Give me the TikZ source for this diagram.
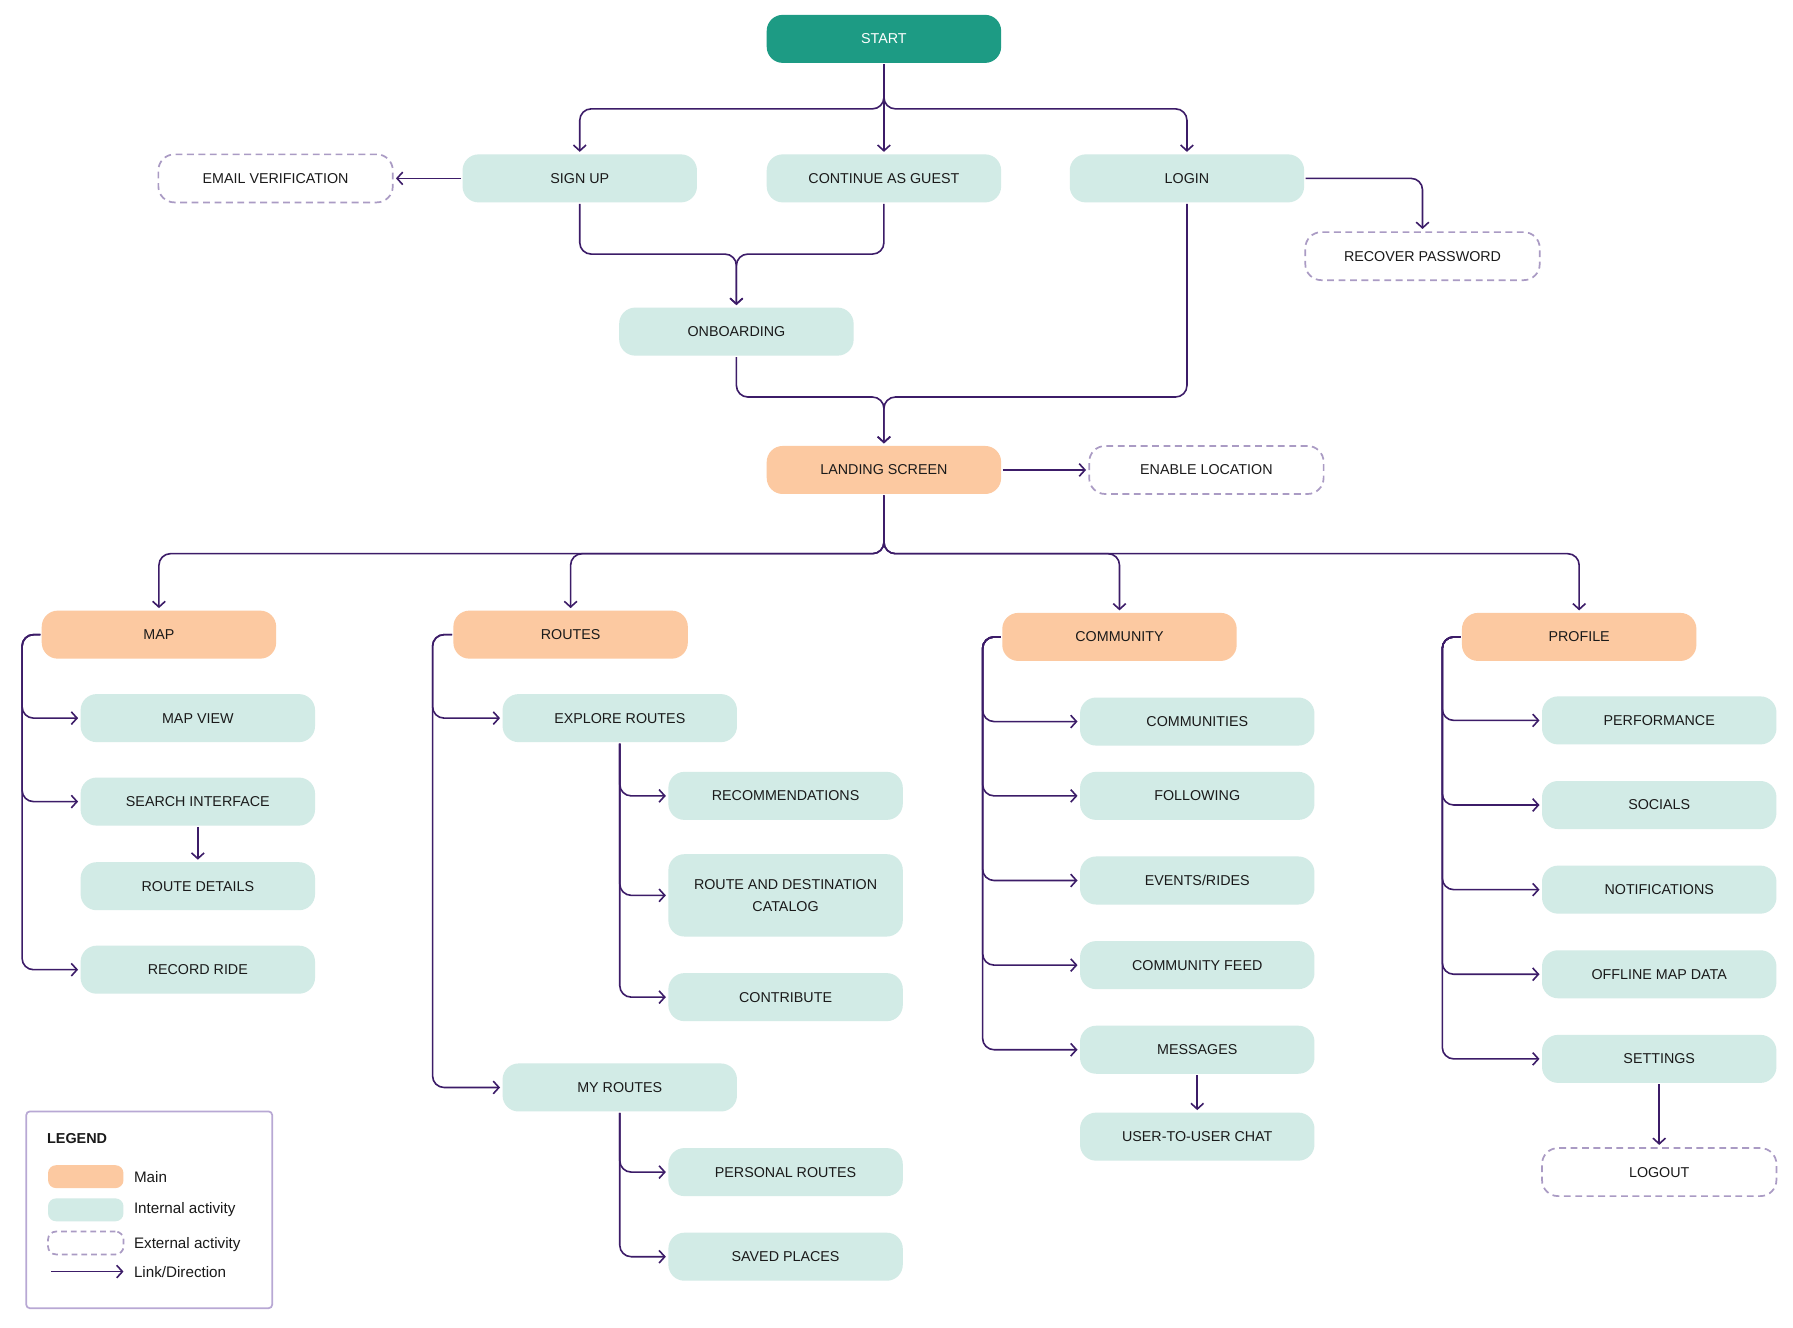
\documentclass[tikz,border=0pt]{standalone}
\usepackage{fontspec}
\setmainfont{Liberation Sans}
\usetikzlibrary{arrows.meta,calc}
\definecolor{startc}{HTML}{1D9B84}
\definecolor{mint}{HTML}{D2EBE6}
\definecolor{peach}{HTML}{FCC9A1}
\definecolor{dashc}{HTML}{AA9BC4}
\definecolor{linec}{HTML}{3C1C68}
\definecolor{legc}{HTML}{B8A8D4}
\definecolor{txt}{HTML}{1A1A1A}
\tikzset{
  base/.style={rounded corners=14pt, minimum width=205pt, minimum height=42pt, inner sep=0pt,
    text=txt, font=\fontsize{12.5}{19}\selectfont, align=center},
  startbox/.style={base, fill=startc, text=white},
  mainbox/.style={base, fill=peach},
  intbox/.style={base, fill=mint},
  extbox/.style={base, draw=dashc, line width=1.5pt, dash pattern=on 6pt off 4pt, fill=white},
  conn/.style={draw=linec, line width=1.4pt, rounded corners=10pt,
    -{Straight Barb[length=5pt,width=11pt,line width=1.4pt]}, shorten >=2pt, shorten <=1pt},
  legtext/.style={anchor=west, inner sep=0pt, text=txt, font=\fontsize{13.3}{15}\selectfont},
}
\begin{document}
\begin{tikzpicture}[x=1pt,y=-1pt]
\useasboundingbox[fill=white] (0,0) rectangle (1568,1161);

% top flow
\node[startbox] (start) at (773,34) {START};
\node[intbox] (signup) at (507,156) {SIGN UP};
\node[intbox] (guest) at (773,156) {CONTINUE AS GUEST};
\node[intbox] (login) at (1038,156) {LOGIN};
\node[extbox] (email) at (241,156) {EMAIL VERIFICATION};
\node[extbox] (recover) at (1244,224) {RECOVER PASSWORD};
\node[intbox] (onboard) at (644,290) {ONBOARDING};
\node[mainbox] (landing) at (773,411) {LANDING SCREEN};
\node[extbox] (enable) at (1055,411) {ENABLE LOCATION};

% main sections
\node[mainbox] (map) at (139,555) {MAP};
\node[mainbox] (routes) at (499,555) {ROUTES};
\node[mainbox] (community) at (979,557) {COMMUNITY};
\node[mainbox] (profile) at (1381,557) {PROFILE};

% map
\node[intbox] (mapview) at (173,628) {MAP VIEW};
\node[intbox] (search) at (173,701) {SEARCH INTERFACE};
\node[intbox] (rdetails) at (173,775) {ROUTE DETAILS};
\node[intbox] (record) at (173,848) {RECORD RIDE};

% routes
\node[intbox] (explore) at (542,628) {EXPLORE ROUTES};
\node[intbox] (recom) at (687,696) {RECOMMENDATIONS};
\node[intbox, minimum height=72pt] (catalog) at (687,783) {ROUTE AND DESTINATION\\CATALOG};
\node[intbox] (contrib) at (687,872) {CONTRIBUTE};
\node[intbox] (myroutes) at (542,951) {MY ROUTES};
\node[intbox] (personal) at (687,1025) {PERSONAL ROUTES};
\node[intbox] (saved) at (687,1099) {SAVED PLACES};

% community
\node[intbox] (communities) at (1047,631) {COMMUNITIES};
\node[intbox] (following) at (1047,696) {FOLLOWING};
\node[intbox] (events) at (1047,770) {EVENTS/RIDES};
\node[intbox] (feed) at (1047,844) {COMMUNITY FEED};
\node[intbox] (messages) at (1047,918) {MESSAGES};
\node[intbox] (chat) at (1047,994) {USER-TO-USER CHAT};

% profile
\node[intbox] (perf) at (1451,630) {PERFORMANCE};
\node[intbox] (socials) at (1451,704) {SOCIALS};
\node[intbox] (notif) at (1451,778) {NOTIFICATIONS};
\node[intbox] (offline) at (1451,852) {OFFLINE MAP DATA};
\node[intbox] (settings) at (1451,926) {SETTINGS};
\node[extbox] (logout) at (1451,1025) {LOGOUT};

% connectors top
\draw[conn] (start.south) -- ++(0,40) -| (signup.north);
\draw[conn] (start.south) -- ++(0,40) -| (login.north);
\draw[conn] (start) -- (guest);
\draw[conn] (signup) -- (email);
\draw[conn] (login.east) -| (recover.north);
\draw[conn] (signup.south) -- ++(0,45) -| (onboard.north);
\draw[conn] (guest.south) -- ++(0,45) -| (onboard.north);
\draw[conn] (onboard.south) -- ++(0,36) -| (landing.north);
\draw[conn] (login.south) -- ++(0,170) -| (landing.north);
\draw[conn] (landing) -- (enable);
\foreach \t in {map,routes,community,profile}
  \draw[conn] (landing.south) -- ++(0,52) -| (\t.north);

% map branches
\foreach \t in {mapview,search,record}
  \draw[conn] (map.west) -- ++(-17,0) |- (\t.west);
\draw[conn] (search) -- (rdetails);

% routes branches
\foreach \t in {explore,myroutes}
  \draw[conn] (routes.west) -- ++(-18,0) |- (\t.west);
\foreach \t in {recom,catalog,contrib}
  \draw[conn] (explore.south) |- (\t.west);
\foreach \t in {personal,saved}
  \draw[conn] (myroutes.south) |- (\t.west);

% community branches
\foreach \t in {communities,following,events,feed,messages}
  \draw[conn] (community.west) -- ++(-17,0) |- (\t.west);
\draw[conn] (messages) -- (chat);

% profile branches
\foreach \t in {perf,socials,notif,offline,settings}
  \draw[conn] (profile.west) -- ++(-17,0) |- (\t.west);
\draw[conn] (settings) -- (logout);

% legend
\node[draw=legc, line width=1.5pt, rounded corners=3pt, minimum width=215pt, minimum height=172pt, inner sep=0pt] (legend) at (130.5,1058) {};
\node[legtext, font=\bfseries\fontsize{12.6}{14}\selectfont] (legtitle) at (41,996) {LEGEND};
\node[fill=peach, rounded corners=7pt, minimum width=66pt, minimum height=20pt, inner sep=0pt] (sw1) at (75,1029) {};
\node[legtext] (lt1) at (117,1029) {Main};
\node[fill=mint, rounded corners=7pt, minimum width=66pt, minimum height=20pt, inner sep=0pt] (sw2) at (75,1058) {};
\node[legtext] (lt2) at (117,1058) {Internal activity};
\node[draw=dashc, line width=1.5pt, dash pattern=on 5pt off 3.5pt, rounded corners=7pt, minimum width=66pt, minimum height=20pt, inner sep=0pt] (sw3) at (75,1087) {};
\node[legtext] (lt3) at (117,1088) {External activity};
\coordinate (la) at (44,1112);
\coordinate (lb) at (110,1112);
\draw[conn, line width=1.6pt, rounded corners=0pt] (la) -- (lb);
\node[legtext] (lt4) at (117,1112) {Link/Direction};
\end{tikzpicture}
\end{document}
